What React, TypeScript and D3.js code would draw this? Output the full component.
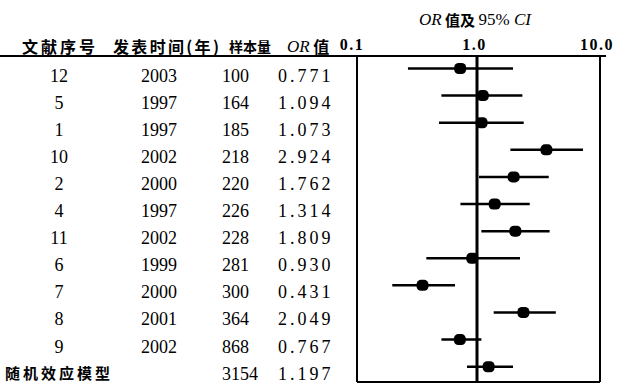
import React from 'react';
import * as d3 from 'd3';

// study rows, top to bottom
const studyIds = ['12', '5', '1', '10', '2', '4', '11', '6', '7', '8', '9'];
const years = ['2003', '1997', '1997', '2002', '2000', '1997', '2002', '1999', '2000', '2001', '2002'];
const sampleSizes = [100, 164, 185, 218, 220, 226, 228, 281, 300, 364, 868];
const orValues = [0.771, 1.094, 1.073, 2.924, 1.762, 1.314, 1.809, 0.93, 0.431, 2.049, 0.767];
const ciLower = [0.344, 0.577, 0.556, 1.675, 1.031, 0.774, 1.07, 0.457, 0.27, 1.294, 0.577];
const ciUpper = [1.745, 2.017, 2.058, 5.14, 3.03, 2.259, 3.07, 1.944, 0.712, 3.38, 1.07];

// pooled estimate
const pooledLabel = '随机效应模型';
const pooledN = 3154;
const pooledOR = 1.197;
const pooledLower = 0.857;
const pooledUpper = 1.745;

const tickValues = [0.1, 1, 10];

const serif = '"Liberation Serif", "DejaVu Serif", serif';
const cjk = '"Noto Sans CJK SC", sans-serif';

const App = () => {
    const width = 617;
    const height = 384;

    const rows = [
        ...studyIds.map((id, i) => ({
            key: 's' + i, id, year: years[i], n: sampleSizes[i],
            or: orValues[i], lo: ciLower[i], hi: ciUpper[i], pooled: false,
        })),
        { key: 'pooled', id: pooledLabel, year: '', n: pooledN, or: pooledOR, lo: pooledLower, hi: pooledUpper, pooled: true },
    ];

    // scales
    const x = d3.scaleLog().domain([0.1, 10]).range([328, 626]);
    const tickX = d3.scaleLog().domain([0.1, 10]).range([352, 597]);
    const y = d3.scalePoint<string>().domain(rows.map(r => r.key)).range([68.5, 366.7]);

    const box = { left: 357, right: 600, top: 56, bottom: 382 };
    const textDy = 7;

    return (
        <svg width={width} height={height} style={{ position: 'absolute', left: 0, top: 0, background: '#fff' }}>
            {/* title */}
            <text x={475} y={19} textAnchor="middle" dominantBaseline="central" fontSize={17} fill="#000">
                <tspan fontFamily={serif} fontStyle="italic">OR</tspan>
                <tspan fontFamily={cjk} fontWeight="bold" fontSize={15}> 值及 </tspan>
                <tspan fontFamily={serif}>95%</tspan>
                <tspan fontFamily={serif} fontStyle="italic"> CI</tspan>
            </text>

            {/* column headers */}
            <g fill="#000" fontFamily={cjk} fontWeight="bold" fontSize={16}>
                <text x={22} y={46} dominantBaseline="central" textLength={73} lengthAdjust="spacing">文献序号</text>
                <text x={113} y={46} dominantBaseline="central" textLength={106} lengthAdjust="spacing">发表时间(年)</text>
                <text x={229} y={46} dominantBaseline="central" fontSize={14}>样本量</text>
                <text x={287} y={46} dominantBaseline="central">
                    <tspan fontFamily={serif} fontStyle="italic" fontWeight="normal" fontSize={17}>OR</tspan>
                    <tspan> 值</tspan>
                </text>
            </g>

            {/* tick labels */}
            <g fill="#000" fontFamily={serif} fontWeight="bold" fontSize={16} letterSpacing={1.5}>
                {tickValues.map(t => (
                    <text key={t} x={tickX(t)} y={44} textAnchor="middle" dominantBaseline="central">
                        {t.toFixed(1)}
                    </text>
                ))}
            </g>

            {/* header rule + plot frame */}
            <line x1={0} x2={606} y1={box.top} y2={box.top} stroke="#000" strokeWidth={2} />
            <line x1={box.left} x2={box.left} y1={box.top} y2={box.bottom} stroke="#000" strokeWidth={2} />
            <line x1={box.right} x2={box.right} y1={box.top} y2={box.bottom} stroke="#000" strokeWidth={2} />
            <line x1={box.left} x2={box.right} y1={box.bottom} y2={box.bottom} stroke="#000" strokeWidth={2} />
            <line x1={x(1)} x2={x(1)} y1={box.top} y2={box.bottom} stroke="#000" strokeWidth={3} />

            {/* rows */}
            {rows.map(r => {
                const cy = y(r.key)!;
                const ty = cy + textDy;
                return (
                    <g key={r.key}>
                        {r.pooled ? (
                            <text x={5} y={ty - 1} dominantBaseline="central" fontFamily={cjk} fontWeight="bold"
                                fontSize={15} textLength={105} lengthAdjust="spacing" fill="#000">{r.id}</text>
                        ) : (
                            <>
                                <text x={59} y={ty} textAnchor="middle" dominantBaseline="central"
                                    fontFamily={serif} fontSize={18} fill="#000">{r.id}</text>
                                <text x={177} y={ty} textAnchor="end" dominantBaseline="central"
                                    fontFamily={serif} fontSize={18} fill="#000">{r.year}</text>
                            </>
                        )}
                        <text x={222} y={ty} dominantBaseline="central" fontFamily={serif} fontSize={18} fill="#000">
                            {r.n}
                        </text>
                        <text x={278} y={ty} dominantBaseline="central" fontFamily={serif} fontSize={18}
                            letterSpacing={3} fill="#000">
                            {r.or.toFixed(3)}
                        </text>
                        <line x1={x(r.lo)} x2={x(r.hi)} y1={cy} y2={cy} stroke="#000" strokeWidth={2.5} />
                        <rect x={x(r.or) - 6} y={cy - 5.5} width={12} height={11} rx={4.5} fill="#000" />
                    </g>
                );
            })}
        </svg>
    );
};

export default App;
